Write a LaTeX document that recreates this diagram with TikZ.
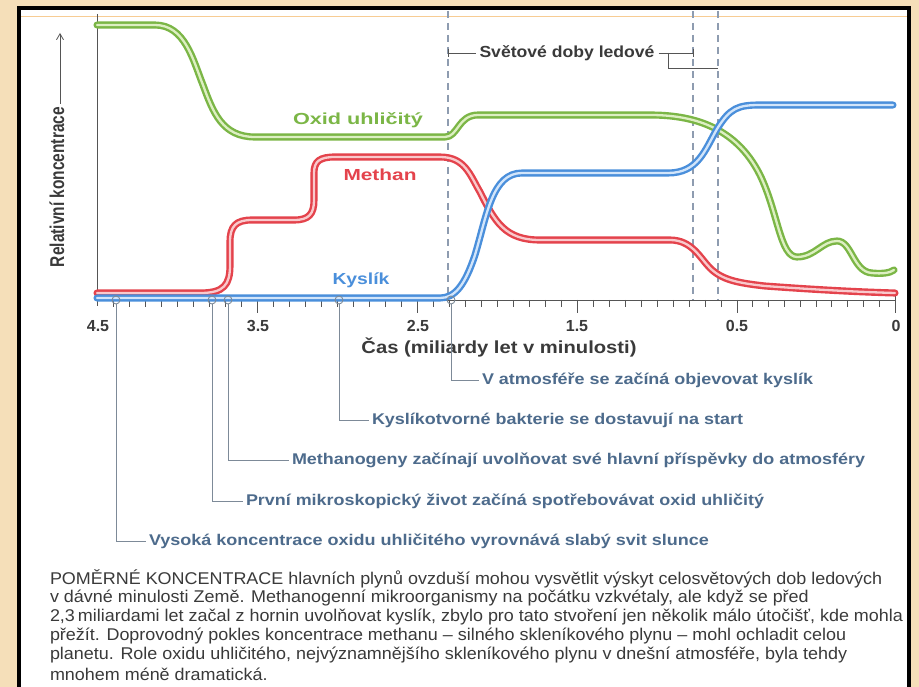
\documentclass[tikz,border=0pt]{standalone}
\usepackage{fontspec}
\setmainfont{Liberation Sans}
\usepackage{graphicx}
\usetikzlibrary{arrows.meta}
\definecolor{bgc}{HTML}{F5DFB9}
\definecolor{gO}{HTML}{7BB646}
\definecolor{gI}{HTML}{DDEFC2}
\definecolor{rO}{HTML}{E4434C}
\definecolor{rI}{HTML}{F9C9CC}
\definecolor{bO}{HTML}{4A8FDB}
\definecolor{bI}{HTML}{D2E5FA}
\definecolor{annc}{HTML}{4D6B8C}
\definecolor{annl}{HTML}{7D8A98}
\definecolor{dashc}{HTML}{8E9CB0}
\definecolor{txtd}{HTML}{3A3A3A}
\definecolor{axc}{HTML}{555555}
\newcommand\fw[2]{\resizebox{#1}{\height}{#2}}
\newlength\capw
\tikzset{
  curve/.style={line width=2.4pt, double distance=2.3pt, line cap=round, line join=round},
  co2/.style={curve, draw=gO, double=gI},
  ch4/.style={curve, draw=rO, double=rI},
  o2/.style={curve, draw=bO, double=bI},
  txt/.style={inner sep=0pt, outer sep=0pt},
  anntxt/.style={txt, anchor=west, text=annc, font=\fontsize{15.5}{15.5}\selectfont\bfseries},
  annline/.style={draw=annl, line width=0.9pt},
  annring/.style={circle, draw=annl, line width=0.9pt, inner sep=0pt, minimum size=8pt},
  icedash/.style={draw=dashc, line width=1.1pt, dash pattern=on 7pt off 5pt},
  tickln/.style={draw=axc, line width=0.8pt},
  ticklab/.style={txt, text=txtd, font=\fontsize{16}{16}\selectfont\bfseries},
  captxt/.style={txt, anchor=west, text=txtd},
}
\begin{document}
\settowidth\capw{\fontsize{17}{17}\selectfont 2,3\,miliardami let začal z hornin uvolňovat kyslík, zbylo pro tato stvoření jen několik málo útočišť, kde mohla}%
\pgfmathsetmacro\capsx{853/\capw}%
\begin{tikzpicture}[x=1pt,y=-1pt]
\useasboundingbox (0,0) rectangle (919,687);
\fill[bgc] (0,0) rectangle (919,687);
\fill[white] (19,8) rectangle (909,700);
\draw[color=bgc!80!orange, line width=0.6pt] (21,16) -- (907,16);
\draw[line width=3.6pt] (19,700) -- (19,8) -- (909,8) -- (909,700);

% ice age dashed lines
\coordinate (d1t) at (448,11); \coordinate (d1b) at (448,300);
\coordinate (d2t) at (693,11); \coordinate (d2b) at (693,300);
\coordinate (d3t) at (718,11); \coordinate (d3b) at (718,300);
\draw[icedash] (d1t) -- (d1b);
\draw[icedash] (d2t) -- (d2b);
\draw[icedash] (d3t) -- (d3b);

% ice age label
\node[txt, text=txtd] (ice) at (567,53) {\fw{175pt}{\fontsize{16}{16}\selectfont\bfseries Světové doby ledové}};
\coordinate (iceL) at (448,53);
\coordinate (iceR) at (693,53);
\coordinate (iceB) at (668,53);
\coordinate (iceC) at (718,68);
\draw[draw=axc, line width=0.8pt] (iceL) -- ([xshift=-4pt]ice.west);
\draw[draw=axc, line width=0.8pt] ([xshift=4pt]ice.east) -- (iceR);
\draw[draw=axc, line width=0.8pt] (iceB) |- (iceC);
\draw[draw=axc, line width=0.8pt] (448,49) -- (448,57);
\draw[draw=axc, line width=0.8pt] (693,49) -- (693,57);

% axes
\coordinate (ytop) at (97,14); \coordinate (ybot) at (97,306);
\draw[draw=axc, line width=0.8pt] (ytop) -- (ybot);
\coordinate (x0) at (97,300); \coordinate (x1) at (895,300);
\draw[draw=axc, line width=0.8pt] (x0) -- (x1);
\foreach \i in {1,...,39} { \draw[tickln] ({97+16*\i},300) -- ++(0,7); }
\foreach \x in {257,417,577,737} { \draw[tickln] (\x,300) -- ++(0,13); }
\foreach \j in {1,...,9} { \draw[tickln] ({737+15.8*\j},300) -- ++(0,7); }
\draw[tickln] (895,292) -- (895,313);

\node[ticklab] (t45) at (98,326) {4.5};
\node[ticklab] (t35) at (258,326) {3.5};
\node[ticklab] (t25) at (418,326) {2.5};
\node[ticklab] (t15) at (577,326) {1.5};
\node[ticklab] (t05) at (737,326) {0.5};
\node[ticklab] (t0) at (896,326) {0};
\node[txt, text=txtd] (xtitle) at (499,347) {\fw{275pt}{\fontsize{17.5}{17.5}\selectfont\bfseries Čas (miliardy let v minulosti)}};

% y label
\node[txt, text=txtd, rotate=90] (ylab) at (57,187) {\fw{160pt}{\fontsize{20}{20}\selectfont\bfseries Relativní koncentrace}};
\coordinate (yarrow) at (60,33);
\draw[draw=axc, line width=0.8pt, -{Straight Barb[length=6pt,width=7pt]}] ([xshift=3pt,yshift=3pt]ylab.east) -- (yarrow);

% curves
\draw[co2] (97,25) -- (155,25) .. controls (185,25) and (193,60) .. (203,85) .. controls (213,112) and (222,137) .. (255,137) -- (445,137) .. controls (458,137) and (458,115) .. (478,115) -- (650,115) .. controls (690,115) and (735,125) .. (760,175) .. controls (778,212) and (780,257) .. (797,257) .. controls (815,257) and (822,241) .. (837,241) .. controls (852,241) and (853,272) .. (872,273) .. controls (882,274) and (890,273) .. (894,270);
\draw[ch4] (97,293) -- (200,293) .. controls (224,293) and (230,285) .. (230,265) -- (230,242) .. controls (230,226) and (236,220) .. (252,220) -- (294,220) .. controls (309,220) and (314,214) .. (314,200) -- (314,173) .. controls (314,161) and (320,157) .. (335,157) -- (440,157) .. controls (465,157) and (470,175) .. (480,192) .. controls (495,222) and (505,240) .. (540,240) -- (670,240) .. controls (692,240) and (700,258) .. (710,268) .. controls (722,280) and (738,283) .. (765,286) .. controls (820,290) and (860,292) .. (895,293);
\draw[o2] (97,298) -- (440,298) .. controls (455,298) and (465,285) .. (475,255) .. controls (487,215) and (492,173) .. (522,173) -- (668,173) .. controls (698,173) and (705,150) .. (717,129) .. controls (730,108) and (738,105) .. (760,105) -- (893,105);

\node[txt, text=gO] (lco2) at (358,120) {\fw{130pt}{\fontsize{16}{16}\selectfont\bfseries Oxid uhličitý}};
\node[txt, text=rO] (lch4) at (380,175) {\fw{73pt}{\fontsize{16}{16}\selectfont\bfseries Methan}};
\node[txt, text=bO] (lo2) at (361,280) {\fw{57pt}{\fontsize{16}{16}\selectfont\bfseries Kyslík}};

% annotations
\node[annring] (c1) at (116,300) {};
\node[annring] (c2) at (212,300) {};
\node[annring] (c3) at (228,300) {};
\node[annring] (c4) at (339,300) {};
\node[annring] (c5) at (451,300) {};
\node[anntxt] (a5) at (482,380) {\fw{331pt}{V atmosféře se začíná objevovat kyslík}};
\node[anntxt] (a4) at (372,420) {\fw{371pt}{Kyslíkotvorné bakterie se dostavují na start}};
\node[anntxt] (a3) at (292,460) {\fw{573pt}{Methanogeny začínají uvolňovat své hlavní příspěvky do atmosféry}};
\node[anntxt] (a2) at (246,501) {\fw{518pt}{První mikroskopický život začíná spotřebovávat oxid uhličitý}};
\node[anntxt] (a1) at (149,541) {\fw{560pt}{Vysoká koncentrace oxidu uhličitého vyrovnává slabý svit slunce}};
\draw[annline] (c1.south) |- ([xshift=-3pt]a1.west);
\draw[annline] (c2.south) |- ([xshift=-3pt]a2.west);
\draw[annline] (c3.south) |- ([xshift=-3pt]a3.west);
\draw[annline] (c4.south) |- ([xshift=-3pt]a4.west);
\draw[annline] (c5.south) |- ([xshift=-3pt]a5.west);

% caption
\node[captxt] (cap1) at (50,579) {\scalebox{\capsx}[1]{\fontsize{17}{17}\selectfont POMĚRNÉ KONCENTRACE hlavních plynů ovzduší mohou vysvětlit výskyt celosvětových dob ledových}};
\node[captxt] (cap2) at (50,598) {\scalebox{\capsx}[1]{\fontsize{17}{17}\selectfont v dávné minulosti Země. Methanogenní mikroorganismy na počátku vzkvétaly, ale když se před}};
\node[captxt] (cap3) at (50,617) {\scalebox{\capsx}[1]{\fontsize{17}{17}\selectfont 2,3\,miliardami let začal z hornin uvolňovat kyslík, zbylo pro tato stvoření jen několik málo útočišť, kde mohla}};
\node[captxt] (cap4) at (50,636) {\scalebox{\capsx}[1]{\fontsize{17}{17}\selectfont přežít. Doprovodný pokles koncentrace methanu – silného skleníkového plynu – mohl ochladit celou}};
\node[captxt] (cap5) at (50,655) {\scalebox{\capsx}[1]{\fontsize{17}{17}\selectfont planetu. Role oxidu uhličitého, nejvýznamnějšího skleníkového plynu v dnešní atmosféře, byla tehdy}};
\node[captxt] (cap6) at (50,674) {\scalebox{\capsx}[1]{\fontsize{17}{17}\selectfont mnohem méně dramatická.}};
\end{tikzpicture}
\end{document}
